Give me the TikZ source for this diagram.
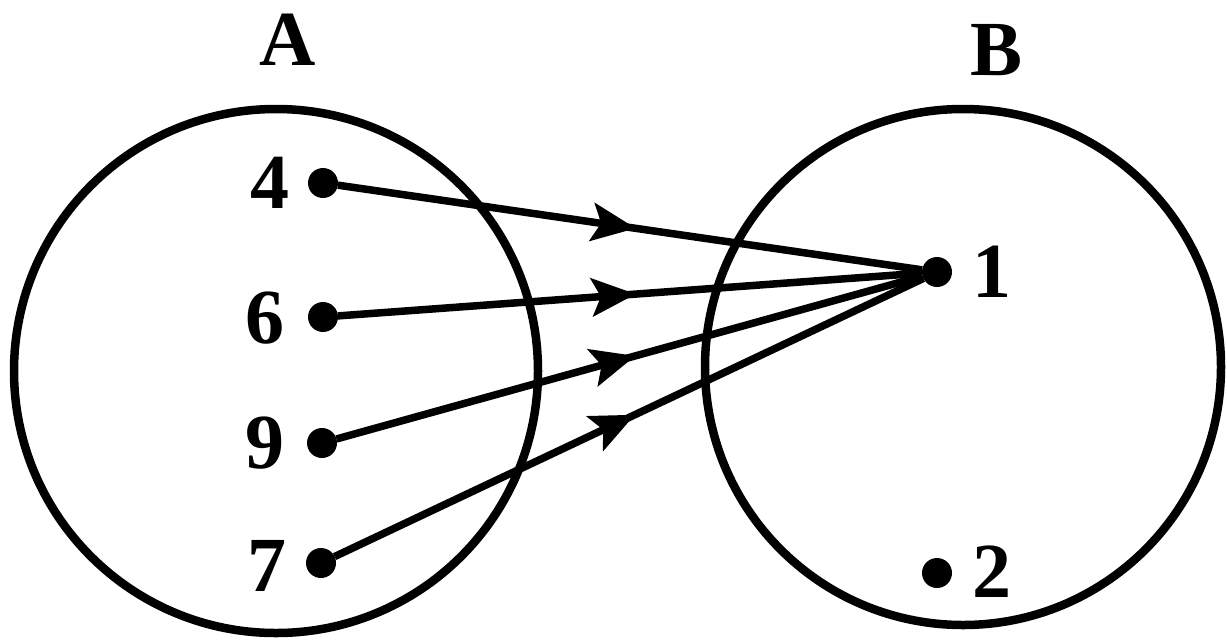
\documentclass[tikz,border=0pt]{standalone}
\usepackage{fontspec}
\setmainfont{Liberation Serif}
\usetikzlibrary{arrows.meta,decorations.markings}
\tikzset{
  setcircle/.style={draw, circle, line width=8.5pt, minimum size=#1, inner sep=0pt, outer sep=0pt},
  elemdot/.style={circle, fill=black, minimum size=30pt, inner sep=0pt, outer sep=0pt},
  lab/.style={font=\fontsize{78}{80}\selectfont\bfseries, inner sep=0pt},
  maparrow/.style={line width=7.5pt, postaction={decorate},
    decoration={markings, mark=at position 0.51 with {\arrow{Stealth[length=44pt,width=38pt,inset=9pt]}}}}
}
\begin{document}
\begin{tikzpicture}[x=1pt,y=-1pt]
\useasboundingbox (0,0) rectangle (1227,641);
\node[setcircle=524pt] (setA) at (276,371) {};
\node[setcircle=516pt] (setB) at (963,367) {};
\node[lab] (labA) at (288,40) {A};
\node[lab] (labB) at (997,50) {B};
\node[elemdot] (a4) at (323,183) {};
\node[elemdot] (a6) at (323,317) {};
\node[elemdot] (a9) at (322,443) {};
\node[elemdot] (a7) at (321,563) {};
\node[elemdot] (b1) at (937,272) {};
\node[elemdot] (b2) at (937,573) {};
\node[lab] (l4) at (270,183) {4};
\node[lab] (l6) at (265,318) {6};
\node[lab] (l9) at (265,443) {9};
\node[lab] (l7) at (267,566) {7};
\node[lab] (l1) at (992,272) {1};
\node[lab] (l2) at (992,572) {2};
\draw[maparrow] (a4) -- (b1);
\draw[maparrow] (a6) -- (b1);
\draw[maparrow] (a9) -- (b1);
\draw[maparrow] (a7) -- (b1);
\end{tikzpicture}
\end{document}
